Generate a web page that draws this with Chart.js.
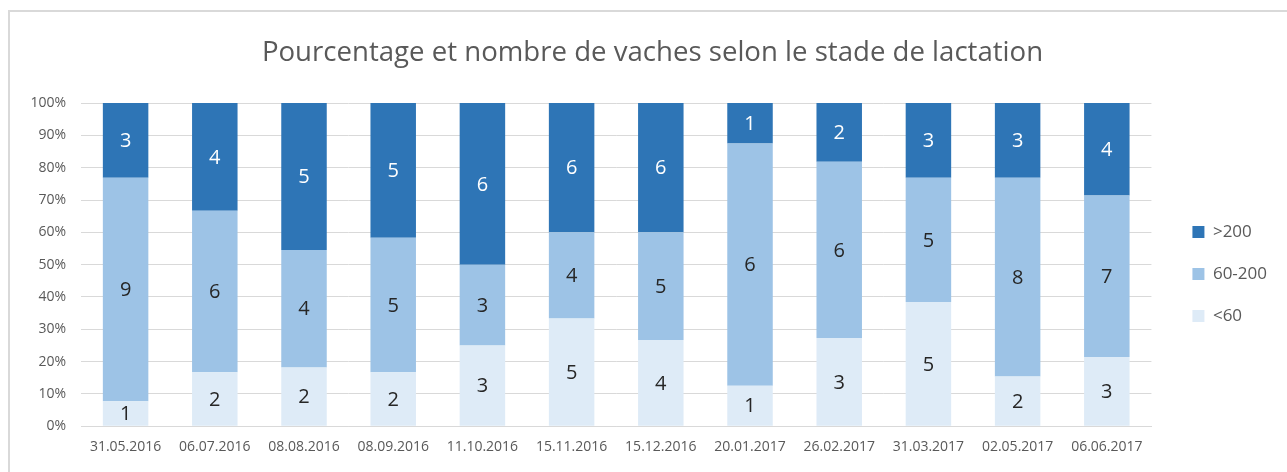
<!DOCTYPE html>
<html>
<head>
<meta charset="utf-8">
<script src="https://cdn.jsdelivr.net/npm/chart.js@4.4.1/dist/chart.umd.min.js"></script>
<style>
html,body{margin:0;padding:0;background:#fff;}
#frame{position:absolute;left:8px;top:10px;width:1300px;height:480px;border:2px solid #d9d9d9;box-sizing:border-box;}
#wrap{position:absolute;left:0;top:0;width:1287px;height:472px;}
</style>
</head>
<body>
<div id="frame"></div>
<div id="wrap"><canvas id="c" width="1287" height="472"></canvas></div>
<script>
const categories = ['31.05.2016','06.07.2016','08.08.2016','08.09.2016','11.10.2016','15.11.2016','15.12.2016','20.01.2017','26.02.2017','31.03.2017','02.05.2017','06.06.2017'];
const under60 = [1,2,2,2,3,5,4,1,3,5,2,3];
const mid60to200 = [9,6,4,5,3,4,5,6,6,5,8,7];
const over200 = [3,4,5,5,6,6,6,1,2,3,3,4];
const seriesNames = ['<60','60-200','>200'];
const yTicks = [0,10,20,30,40,50,60,70,80,90,100];

const totals = categories.map((_, i) => under60[i] + mid60to200[i] + over200[i]);
const pct = arr => arr.map((v, i) => v / totals[i] * 100);
const counts = [under60, mid60to200, over200];

const labelPlugin = {
  id: 'countLabels',
  afterDatasetsDraw(chart) {
    const ctx = chart.ctx;
    ctx.save();
    ctx.font = '20px "Open Sans"';
    ctx.textAlign = 'center';
    ctx.textBaseline = 'middle';
    chart.data.datasets.forEach((ds, di) => {
      const meta = chart.getDatasetMeta(di);
      ctx.fillStyle = di === 2 ? '#ffffff' : '#262626';
      meta.data.forEach((el, i) => {
        const y = (el.y + el.base) / 2;
        ctx.fillText(String(counts[di][i]), el.x, y + 1);
      });
    });
    ctx.restore();
  }
};

new Chart(document.getElementById('c'), {
  type: 'bar',
  data: {
    labels: categories,
    datasets: [
      {label: seriesNames[0], data: pct(under60), backgroundColor: '#DEEBF7'},
      {label: seriesNames[1], data: pct(mid60to200), backgroundColor: '#9DC3E6'},
      {label: seriesNames[2], data: pct(over200), backgroundColor: '#2E75B6'}
    ]
  },
  options: {
    responsive: false,
    animation: false,
    devicePixelRatio: 1,
    layout: {padding: {left: 28, right: 10, top: 37, bottom: 5}},
    datasets: {bar: {categoryPercentage: 1, barPercentage: 0.51}},
    plugins: {
      title: {display: true, text: 'Pourcentage et nombre de vaches selon le stade de lactation',
        color: '#595959', font: {family: '"Open Sans"', size: 27.6, weight: 'normal'}, padding: {top: 0, bottom: 33}},
      legend: {position: 'right', reverse: true, align: 'center',
        title: {display: true, text: '', font: {size: 1}, padding: {top: 43, bottom: 0}},
        labels: {color: '#595959', font: {family: '"Open Sans"', size: 17}, boxWidth: 12, boxHeight: 12, padding: 25}},
      tooltip: {enabled: false}
    },
    scales: {
      x: {stacked: true,
        grid: {display: false, drawTicks: false},
        border: {display: true, color: '#d9d9d9', width: 1},
        ticks: {color: '#595959', font: {family: '"Open Sans"', size: 14}, padding: 12, maxRotation: 0}},
      y: {stacked: true, min: 0, max: 100,
        afterBuildTicks: axis => { axis.ticks = yTicks.map(v => ({value: v})); },
        afterFit: axis => { axis.width = 53; },
        grid: {color: '#d9d9d9', drawTicks: false},
        border: {display: false},
        ticks: {color: '#595959', font: {family: '"Open Sans"', size: 14}, padding: 15, callback: v => v + '%'}},
      yR: {type: 'linear', position: 'right', display: true,
        afterFit: axis => { axis.width = 16; },
        grid: {display: false, drawTicks: false},
        border: {display: false},
        ticks: {display: false}}
    }
  },
  plugins: [labelPlugin]
});
</script>
</body>
</html>
